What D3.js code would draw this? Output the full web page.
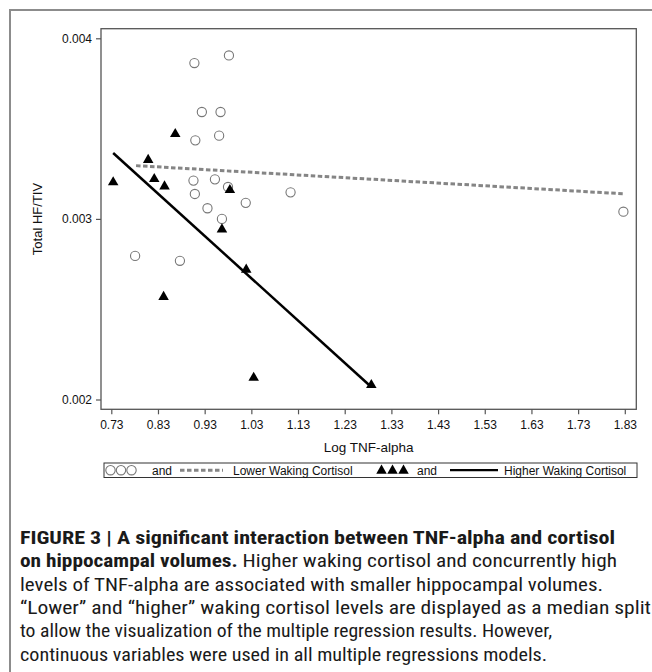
<!DOCTYPE html>
<html>
<head>
<meta charset="utf-8">
<script src="https://cdn.jsdelivr.net/npm/d3@7"></script>
<style>
  html, body { margin: 0; padding: 0; background: #fff; }
  svg { display: block; }
</style>
</head>
<body>
<div id="chart"></div>
<script>
'use strict';

// tick values
const xTicks = [0.73, 0.83, 0.93, 1.03, 1.13, 1.23, 1.33, 1.43, 1.53, 1.63, 1.73, 1.83];
const yTicks = [0.002, 0.003, 0.004];

// lower waking cortisol (open circles)
const lowerX = [0.908, 0.982, 0.924, 0.964, 0.910, 0.961, 0.906, 0.952, 0.980, 0.909, 1.018, 0.936, 1.114, 0.967, 0.781, 0.877, 1.827];
const lowerY = [0.003863, 0.003905, 0.003592, 0.003592, 0.003435, 0.003461, 0.003212, 0.003219, 0.003177, 0.003138, 0.003089, 0.003059, 0.003147, 0.003000, 0.002795, 0.002768, 0.003040];

// higher waking cortisol (filled triangles)
const higherX = [0.734, 0.809, 0.867, 0.822, 0.844, 0.984, 0.967, 1.019, 0.842, 1.035, 1.287];
const higherY = [0.003203, 0.003327, 0.003470, 0.003221, 0.003180, 0.003160, 0.002942, 0.002719, 0.002568, 0.002120, 0.002080];

// regression lines (end points)
const lowerFitX = [0.783, 1.827];
const lowerFitY = [0.003295, 0.003139];
const higherFitX = [0.734, 1.287];
const higherFitY = [0.003365, 0.002069];

const xTitle = 'Log TNF-alpha';
const yTitle = 'Total HF/TIV';
const legendLabels = ['and', 'Lower Waking Cortisol', 'and', 'Higher Waking Cortisol'];

const captionLines = [
    [{t: 'FIGURE 3 | A significant interaction between TNF-alpha and cortisol', b: true}],
    [{t: 'on hippocampal volumes.', b: true}, {t: ' Higher waking cortisol and concurrently high', b: false}],
    [{t: 'levels of TNF-alpha are associated with smaller hippocampal volumes.', b: false}],
    [{t: '\u201CLower\u201D and \u201Chigher\u201D waking cortisol levels are displayed as a median split', b: false}],
    [{t: 'to allow the visualization of the multiple regression results. However,', b: false}],
    [{t: 'continuous variables were used in all multiple regressions models.', b: false}]
];
const captionWidths = [595, 597, 583, 631, 532, 527];

const WIDTH = 652, HEIGHT = 672;
const box = {left: 101, right: 636.3, top: 28.7, bottom: 409.3};
const chartFont = '"Liberation Sans", Arial, sans-serif';

let svg = d3.select('#chart').append('svg')
    .attr('width', WIDTH)
    .attr('height', HEIGHT);

// outer frame (only left and top visible)
svg.append('path')
    .attr('d', 'M10,' + HEIGHT + 'V10H' + WIDTH)
    .attr('fill', 'none')
    .attr('stroke', '#8c8c8c')
    .attr('stroke-width', 2);

// scales
let x = d3.scaleLinear().domain([0.73, 1.83]).range([111.3, 624.8]);
let y = d3.scaleLinear().domain([0.002, 0.004]).range([399.5, 38.3]);

// plot box
svg.append('rect')
    .attr('x', box.left).attr('y', box.top)
    .attr('width', box.right - box.left)
    .attr('height', box.bottom - box.top)
    .attr('fill', 'none')
    .attr('stroke', '#555')
    .attr('stroke-width', 1.3);

// x axis
let xAxis = svg.append('g')
    .attr('transform', 'translate(0,' + box.bottom + ')')
    .call(d3.axisBottom(x).tickValues(xTicks).tickFormat(d3.format('.2f')).tickSize(5).tickSizeOuter(0).tickPadding(6));
xAxis.select('.domain').remove();
xAxis.selectAll('line').attr('stroke', '#555').attr('stroke-width', 1.2);
xAxis.selectAll('text').attr('font-family', chartFont).attr('font-size', 12).attr('fill', '#111');

// y axis
let yAxis = svg.append('g')
    .attr('transform', 'translate(' + box.left + ',0)')
    .call(d3.axisLeft(y).tickValues(yTicks).tickFormat(d3.format('.3f')).tickSize(5).tickSizeOuter(0).tickPadding(4));
yAxis.select('.domain').remove();
yAxis.selectAll('line').attr('stroke', '#555').attr('stroke-width', 1.2);
yAxis.selectAll('text').attr('font-family', chartFont).attr('font-size', 12).attr('fill', '#111');

// axis titles
svg.append('text')
    .attr('x', (box.left + box.right) / 2)
    .attr('y', 452)
    .attr('text-anchor', 'middle')
    .attr('font-family', chartFont)
    .attr('font-size', 13.5)
    .attr('fill', '#111')
    .text(xTitle);

svg.append('text')
    .attr('transform', 'translate(41.5,' + (box.top + box.bottom) / 2 + ') rotate(-90)')
    .attr('text-anchor', 'middle')
    .attr('font-family', chartFont)
    .attr('font-size', 13)
    .attr('fill', '#111')
    .text(yTitle);

// regression lines
let line = d3.line().x(d => x(d[0])).y(d => y(d[1]));

svg.append('path')
    .datum(d3.zip(lowerFitX, lowerFitY))
    .attr('d', line)
    .attr('fill', 'none')
    .attr('stroke', '#858585')
    .attr('stroke-width', 3)
    .attr('stroke-dasharray', '4.5,2.5');

svg.append('path')
    .datum(d3.zip(higherFitX, higherFitY))
    .attr('d', line)
    .attr('fill', 'none')
    .attr('stroke', '#000')
    .attr('stroke-width', 2.5);

// lower cortisol points
svg.append('g').selectAll('circle')
    .data(d3.zip(lowerX, lowerY))
    .join('circle')
    .attr('cx', d => x(d[0]))
    .attr('cy', d => y(d[1]))
    .attr('r', 4.6)
    .attr('fill', 'none')
    .attr('stroke', '#777')
    .attr('stroke-width', 1.1);

// higher cortisol points
let tri = d3.symbol(d3.symbolTriangle, 48);
svg.append('g').selectAll('path')
    .data(d3.zip(higherX, higherY))
    .join('path')
    .attr('d', tri)
    .attr('transform', d => 'translate(' + x(d[0]) + ',' + y(d[1]) + ')')
    .attr('fill', '#000');

// legend
let legend = svg.append('g');
legend.append('rect')
    .attr('x', 104).attr('y', 463)
    .attr('width', 533).attr('height', 14.5)
    .attr('fill', '#fff')
    .attr('stroke', '#333')
    .attr('stroke-width', 1);

const ly = 470.2;
[110.5, 121, 131.5].forEach(cx => {
    legend.append('circle')
        .attr('cx', cx).attr('cy', ly).attr('r', 4.7)
        .attr('fill', 'none').attr('stroke', '#777').attr('stroke-width', 1.1);
});
legend.append('line')
    .attr('x1', 180).attr('x2', 223).attr('y1', ly).attr('y2', ly)
    .attr('stroke', '#858585').attr('stroke-width', 3).attr('stroke-dasharray', '4.5,2.5');
[381.5, 392.5, 403.5].forEach(cx => {
    legend.append('path')
        .attr('d', tri)
        .attr('transform', 'translate(' + cx + ',' + (ly + 0.5) + ')')
        .attr('fill', '#000');
});
legend.append('line')
    .attr('x1', 450).attr('x2', 498).attr('y1', ly).attr('y2', ly)
    .attr('stroke', '#000').attr('stroke-width', 2.2);

const legendTextX = [152, 233, 417, 504];
legendLabels.forEach((lab, i) => {
    legend.append('text')
        .attr('x', legendTextX[i]).attr('y', 474.5)
        .attr('font-family', chartFont)
        .attr('font-size', 12)
        .attr('fill', '#111')
        .text(lab);
});

// caption
const captionFont = '"Liberation Sans Narrow", "Arial Narrow", "Roboto Condensed", "DejaVu Sans Condensed", "Liberation Sans", sans-serif';
captionLines.forEach((parts, i) => {
    let t = svg.append('text')
        .attr('x', 20)
        .attr('y', 544 + i * 23.35)
        .attr('font-family', captionFont)
        .attr('font-size', 19)
        .attr('fill', '#1a1a1a')
        .attr('textLength', captionWidths[i])
        .attr('lengthAdjust', 'spacingAndGlyphs');
    parts.forEach(p => {
        t.append('tspan')
            .attr('font-weight', p.b ? 'bold' : 'normal')
            .text(p.t);
    });
});
</script>
</body>
</html>
